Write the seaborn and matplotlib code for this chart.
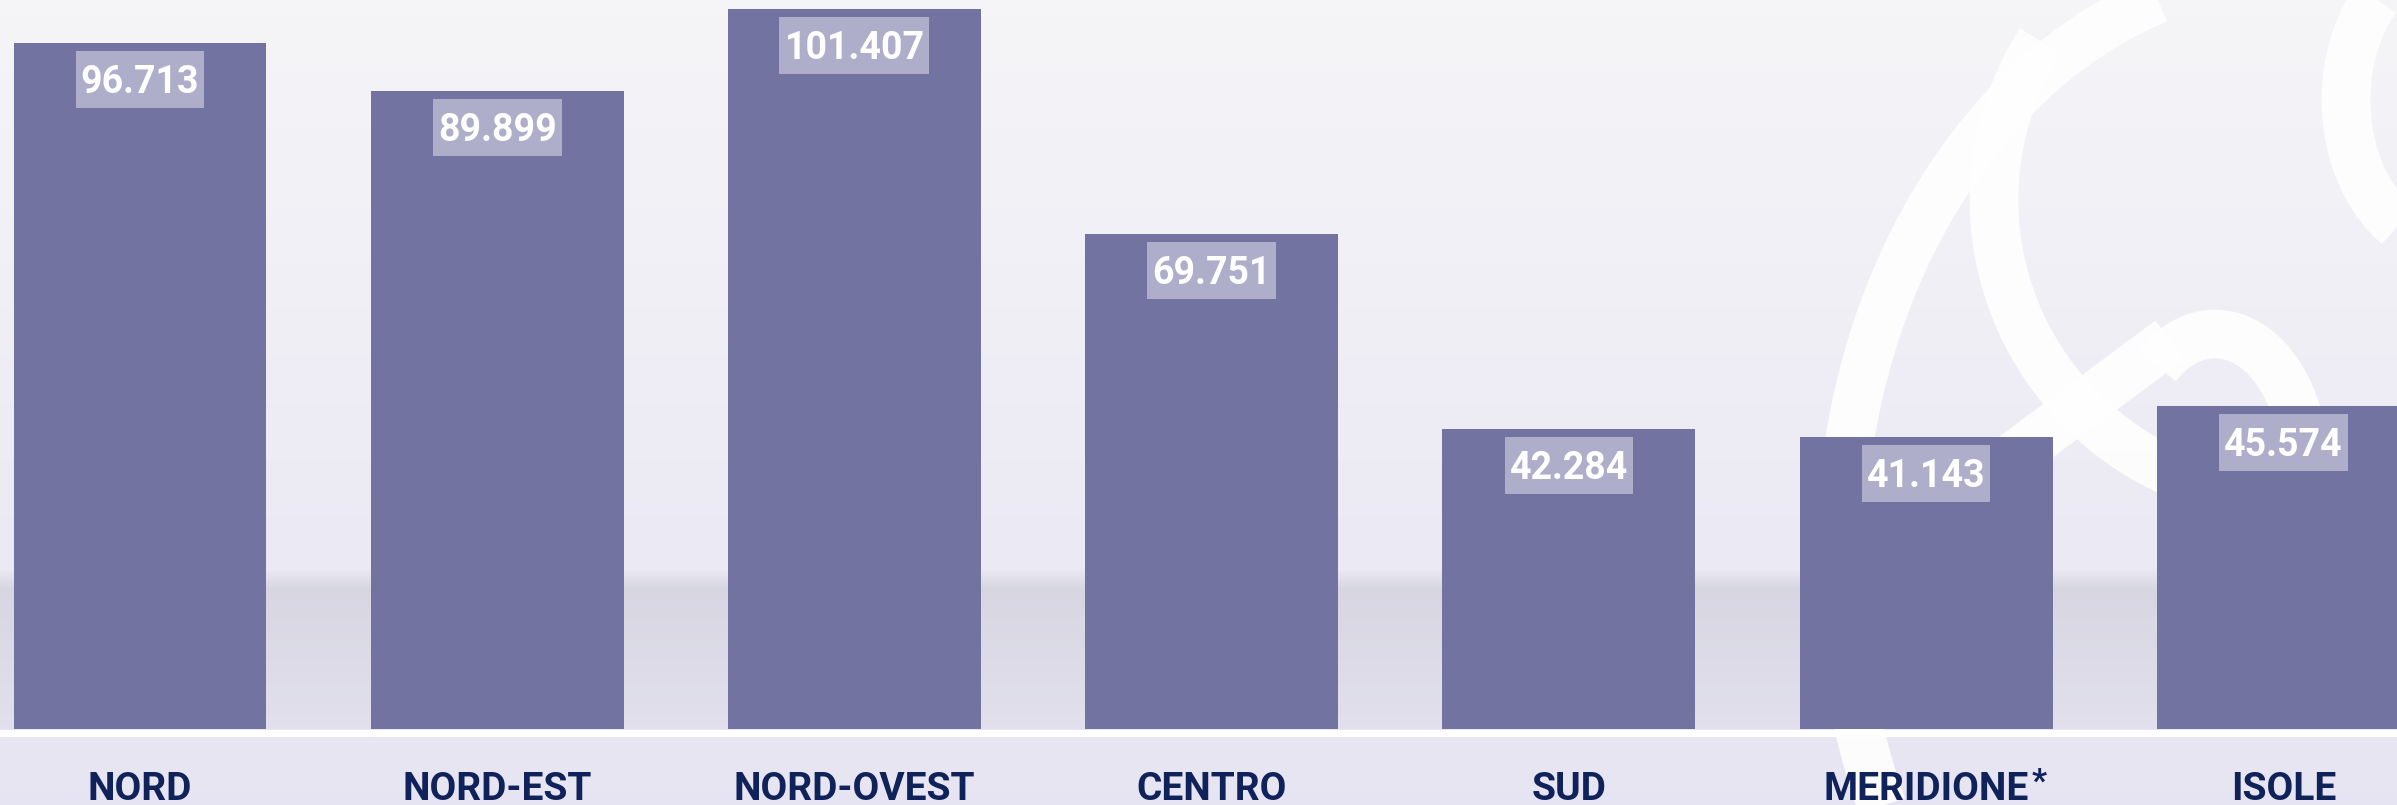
import numpy as np
import matplotlib
matplotlib.use("Agg")
import matplotlib.pyplot as plt
import matplotlib.transforms as mtransforms
from matplotlib.patches import Rectangle
from matplotlib import font_manager
import seaborn as sns

# data (Italian thousands separator in the labels)
categories = ["NORD", "NORD-EST", "NORD-OVEST", "CENTRO", "SUD", "MERIDIONE", "ISOLE"]
values = [96713, 89899, 101407, 69751, 42284, 41143, 45574]
value_labels = [f"{v:,}".replace(",", ".") for v in values]

bar_color = "#7273a0"
box_color = "#aeaecb"
label_color = "#10225a"

sns.set_theme(style="white")
names = {f.name for f in font_manager.fontManager.ttflist}
main_font = "Liberation Sans Narrow" if "Liberation Sans Narrow" in names else "Roboto"
plt.rcParams["font.family"] = [main_font, "DejaVu Sans"]

W, H = 2397, 805
fig = plt.figure(figsize=(W / 100, H / 100), dpi=100)

# background picture (pixel coordinates, y down)
bg = fig.add_axes([0, 0, 1, 1])
bg.set_xlim(0, W)
bg.set_ylim(H, 0)
bg.axis("off")
top = np.array([0.962, 0.962, 0.972])
bot = np.array([0.905, 0.897, 0.950])
g = np.linspace(0, 1, H)[:, None, None]
bg.imshow(top * (1 - g) + bot * g, extent=[0, W, H, 0], aspect="auto", zorder=0)

# soft grey shadow band behind the bars
t = np.linspace(0, 1, 160)
shade = np.zeros((160, 1, 4))
shade[..., :3] = [0.70, 0.70, 0.75]
shade[:, 0, 3] = 0.38 * np.clip(t / 0.12, 0, 1) * (1 - 0.7 * t)
bg.imshow(shade, extent=[0, W, 729, 569], aspect="auto", zorder=1)

# white logo strokes at the right
def stroke(cx, cy, rx, ry, a0, a1, lw=35):
    a = np.radians(np.linspace(a0, a1, 300))
    bg.plot(cx + rx * np.cos(a), cy + ry * np.sin(a), color="white",
            lw=lw, alpha=0.9, solid_capstyle="butt", zorder=2)

stroke(2300, 560, 460, 590, 140, 268)   # big outer curve + top arc
stroke(2300, 200, 306, 300, 115, 212)   # inner curve
stroke(2215, 470, 90, 136, 230, 450)    # small loop
stroke(2460, 100, 114, 150, 118, 242)   # C at the right edge
bg.plot([2170, 1995], [340, 470], color="white", lw=35, alpha=0.9,
        solid_capstyle="butt", zorder=2)

# white baseline under the bars
bg.plot([0, W], [732.5, 732.5], color="white", lw=5, zorder=3)

# bar chart
ax = fig.add_axes([0, 1 - 729 / H, 1, 729 / H])
ax.patch.set_alpha(0)
sns.barplot(x=categories, y=values, color=bar_color, saturation=1,
            width=0.708, linewidth=0, edgecolor="none", ax=ax, zorder=3)
ax.set_xlim(-0.392, 6.318)
ax.set_ylim(0, 102703)
for s in ax.spines.values():
    s.set_visible(False)
ax.set_yticks([])
ax.set_xlabel("")
ax.set_ylabel("")
ax.tick_params(axis="x", length=0, pad=30, labelsize=28, labelcolor=label_color)
for lab in ax.get_xticklabels():
    lab.set_fontweight("bold")

texts = []
for i, (v, lab) in enumerate(zip(values, value_labels)):
    texts.append(ax.annotate(lab, xy=(i, v), xytext=(0, -36), textcoords="offset points",
                             ha="center", va="baseline", fontsize=27, fontweight="bold",
                             color="white", zorder=5))

# light boxes behind the value labels (8 px below bar top, 57 px tall)
fig.canvas.draw()
renderer = fig.canvas.get_renderer()
for i, (v, txt) in enumerate(zip(values, texts)):
    tb = txt.get_window_extent(renderer)
    ytop = ax.transData.transform((i, v))[1] - 8
    ax.add_patch(Rectangle((tb.x0 - 5, ytop - 57), tb.width + 10, 57,
                           transform=mtransforms.IdentityTransform(),
                           fc=box_color, ec="none", zorder=4))

# superscript asterisk after MERIDIONE
bb = ax.get_xticklabels()[5].get_window_extent(renderer)
fig.text(bb.x1 + 3, bb.y1 + 4, "*", transform=mtransforms.IdentityTransform(),
         ha="left", va="top", fontsize=24, fontweight="bold", color=label_color)

fig.savefig("out.png", dpi=100)
